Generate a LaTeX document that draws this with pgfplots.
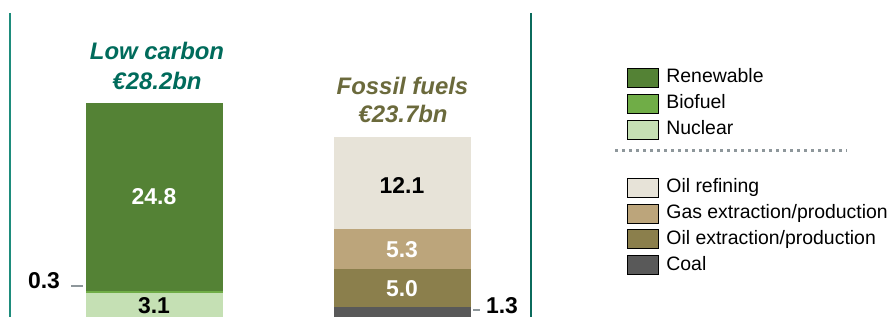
\documentclass[border=0pt]{standalone}
\usepackage{pgfplots}
\pgfplotsset{compat=1.18}
\usepackage{pgfplotstable}
\usepackage{fontspec}
\setmainfont{Liberation Sans}
\definecolor{renew}{HTML}{548235}
\definecolor{biof}{HTML}{70AD47}
\definecolor{nucl}{HTML}{C5E0B4}
\definecolor{refin}{HTML}{E7E3D8}
\definecolor{gasx}{HTML}{BCA57B}
\definecolor{oilx}{HTML}{8B7F4C}
\definecolor{coal}{HTML}{595959}
\definecolor{lowc}{HTML}{006B5B}
\definecolor{foss}{HTML}{6B6A3C}
\definecolor{lineA}{HTML}{1E8C7C}
\definecolor{lineB}{HTML}{0B6B5C}
\definecolor{dashg}{HTML}{8E979B}
\pgfplotstableread{
x nuclear biofuel renewable coal oilext gas refining
154 3.1 0.3 24.8 0 0 0 0
402 0 0 0 1.3 5.0 5.3 12.1
}\data
\pgfplotsset{swatch/.style={legend image code/.code={\fill[##1] (0bp,-9.5bp) rectangle (31bp,9.5bp);}}}
\begin{document}
\begin{tikzpicture}
\begin{axis}[name=ax, at={(0,0)}, anchor=south west,
  scale only axis, width=893bp, height=317bp,
  xmin=0, xmax=893, ymin=0, ymax=41.71,
  axis lines=none, xtick=\empty, ytick=\empty,
  ybar stacked, bar width=137, clip=false,
  legend style={draw=none, fill=none, inner sep=0pt, outer sep=0pt,
    at={(0.7021,0.7855)}, anchor=north west,
    row sep=6.5bp, column sep=8bp,
    font=\fontsize{19.5}{22}\selectfont,
    nodes={inner sep=0pt, text height=14bp, text depth=4bp}},
  legend cell align=left,
]
\addplot[fill=nucl, draw=none, forget plot] table[x=x, y=nuclear] {\data};
\addplot[fill=biof, draw=none, forget plot] table[x=x, y=biofuel] {\data};
\addplot[fill=renew, draw=none, forget plot] table[x=x, y=renewable] {\data};
\addplot[fill=coal, draw=none, forget plot] table[x=x, y=coal] {\data};
\addplot[fill=oilx, draw=none, forget plot] table[x=x, y=oilext] {\data};
\addplot[fill=gasx, draw=none, forget plot] table[x=x, y=gas] {\data};
\addplot[fill=refin, draw=none, forget plot] table[x=x, y=refining] {\data};

\addlegendimage{swatch, fill=renew}
\addlegendentry{Renewable}
\addlegendimage{swatch, fill=biof}
\addlegendentry{Biofuel}
\addlegendimage{swatch, fill=nucl}
\addlegendentry{Nuclear}
\addlegendimage{legend image code/.code={\path[draw=none, fill=none] (0bp,-16bp) rectangle (1bp,9.5bp);\draw[overlay, dashg, line width=2.5bp, dash pattern=on 2.5bp off 4.5bp] (-12bp,4.5bp) -- (220bp,4.5bp);}}
\addlegendentry{}
\addlegendimage{swatch, fill=refin}
\addlegendentry{Oil refining}
\addlegendimage{swatch, fill=gasx}
\addlegendentry{Gas extraction/production}
\addlegendimage{swatch, fill=oilx}
\addlegendentry{Oil extraction/production}
\addlegendimage{swatch, fill=coal}
\addlegendentry{Coal}

% vertical separators
\draw[lineA, line width=2bp] (axis cs:10,40.0) -- (axis cs:10,0);
\draw[lineB, line width=2bp] (axis cs:531,40.0) -- (axis cs:531,0);
% small leader dashes
\draw[dashg, line width=1.5bp] (axis cs:71,4.08) -- (axis cs:83,4.08);
\draw[dashg, line width=1.5bp] (axis cs:473,0.92) -- (axis cs:480,0.92);

% titles
\node[anchor=base, text=lowc, font=\fontsize{24}{28}\selectfont\bfseries\itshape] at (axis cs:157,33.82) {Low carbon};
\node[anchor=base, text=lowc, font=\fontsize{24}{28}\selectfont\bfseries\itshape] at (axis cs:157,29.97) {€28.2bn};
\node[anchor=base, text=foss, font=\fontsize{24}{28}\selectfont\bfseries\itshape] at (axis cs:402.5,29.21) {Fossil fuels};
\node[anchor=base, text=foss, font=\fontsize{24}{28}\selectfont\bfseries\itshape] at (axis cs:403,25.53) {€23.7bn};

% label anchors (text drawn after the axis so it sits above the bars)
\coordinate (v1) at (axis cs:154,15.8);
\coordinate (v2) at (axis cs:154,1.45);
\coordinate (v3) at (axis cs:44,4.74);
\coordinate (v4) at (axis cs:402,17.3);
\coordinate (v5) at (axis cs:402,8.9);
\coordinate (v6) at (axis cs:402,3.8);
\coordinate (v7) at (axis cs:502,1.55);
\end{axis}
\begin{scope}[font=\fontsize{23}{28}\selectfont\bfseries]
\node[text=white] at (v1) {24.8};
\node[text=black] at (v2) {3.1};
\node[text=black] at (v3) {0.3};
\node[text=black] at (v4) {12.1};
\node[text=white] at (v5) {5.3};
\node[text=white] at (v6) {5.0};
\node[text=black] at (v7) {1.3};
\end{scope}
\pgfresetboundingbox
\path[use as bounding box] (ax.south west) rectangle (ax.north east);
\end{tikzpicture}
\end{document}
